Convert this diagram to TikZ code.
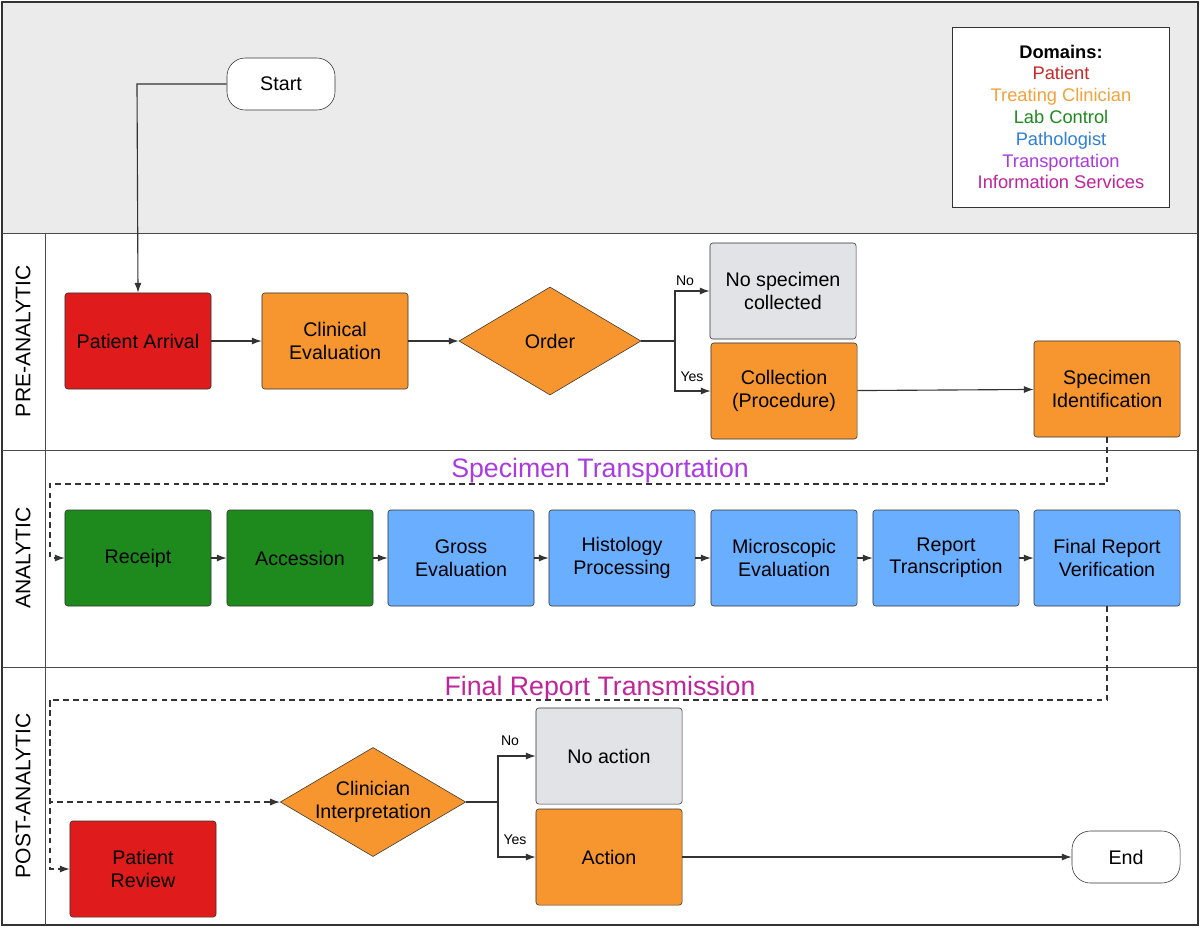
\documentclass[tikz,border=0pt]{standalone}
\usepackage{fontspec}
\setmainfont{Liberation Sans}
\usetikzlibrary{shapes.geometric,arrows.meta}
\definecolor{cred}{HTML}{E01B1B}
\definecolor{corg}{HTML}{F7962F}
\definecolor{cgrn}{HTML}{1E8A1E}
\definecolor{cblu}{HTML}{6AAFFF}
\definecolor{cgry}{HTML}{E1E3E7}
\definecolor{chead}{HTML}{EBEBEB}
\definecolor{cpur}{HTML}{A93BE0}
\definecolor{cmag}{HTML}{C0249B}
\definecolor{ltred}{HTML}{C62828}
\definecolor{ltorg}{HTML}{F2A33A}
\definecolor{ltgrn}{HTML}{1E8A1E}
\definecolor{ltblu}{HTML}{2F7FD8}
\begin{document}
\begin{tikzpicture}[x=0.025cm,y=-0.025cm,
 box/.style={draw=black!80,rounded corners=2pt,minimum width=3.65cm,minimum height=2.4cm,align=center,font=\fontsize{14}{16}\selectfont,inner sep=0pt},
 dia/.style={draw=black!80,diamond,aspect=1.7,fill=corg,minimum width=4.55cm,minimum height=2.7cm,inner sep=0pt,align=center,font=\fontsize{14}{16}\selectfont},
 term/.style={draw=black!80,rounded corners=13pt,fill=white,minimum width=2.7cm,minimum height=1.3cm,font=\fontsize{14}{16}\selectfont},
 arr/.style={-{Latex[length=7pt,width=5pt]},black!80,thick},
 darr/.style={-{Latex[length=7pt,width=5pt]},black!80,thick,dash pattern=on 4pt off 3pt},
 lane/.style={rotate=90,font=\fontsize{15}{17}\selectfont},
 lbl/.style={font=\fontsize{10}{12}\selectfont}]
\useasboundingbox (0,0) rectangle (1200,930);
\fill[chead] (2,2) rectangle (1198,233);
\draw[black!80,thick] (2,2) rectangle (1198,925);
\draw[black!70] (2,233)--(1198,233) (2,450)--(1198,450) (2,667)--(1198,667) (45,233)--(45,925);
\node[lane] (l1) at (23,341) {PRE-ANALYTIC};
\node[lane] (l2) at (23,558) {ANALYTIC};
\node[lane] (l3) at (23,796) {POST-ANALYTIC};
% legend
\node[draw=black!80,fill=white,minimum width=5.42cm,minimum height=4.5cm,align=center,font=\fontsize{13}{15.5}\selectfont] (leg) at (1061,117)
{\textbf{Domains:}\\\textcolor{ltred}{Patient}\\\textcolor{ltorg}{Treating Clinician}\\\textcolor{ltgrn}{Lab Control}\\\textcolor{ltblu}{Pathologist}\\\textcolor{cpur}{Transportation}\\\textcolor{cmag}{Information Services}};
\node[term] (start) at (281,84) {Start};
\node[box,fill=cred] (pa) at (138,341) {Patient Arrival};
\node[box,fill=corg] (ce) at (335,341) {Clinical\\Evaluation};
\node[dia] (ord) at (550,341) {Order};
\node[box,fill=cgry] (nsc) at (783,291) {No specimen\\collected};
\node[box,fill=corg] (col) at (784,391) {Collection\\(Procedure)};
\node[box,fill=corg] (sid) at (1107,389) {Specimen\\Identification};
\node[box,fill=cgrn] (rec) at (138,558) {Receipt};
\node[box,fill=cgrn] (acc) at (300,558) {Accession};
\node[box,fill=cblu] (gro) at (461,558) {Gross\\Evaluation};
\node[box,fill=cblu] (his) at (622,558) {Histology\\Processing};
\node[box,fill=cblu] (mic) at (784,558) {Microscopic\\Evaluation};
\node[box,fill=cblu] (rep) at (946,558) {Report\\Transcription};
\node[box,fill=cblu] (fin) at (1107,558) {Final Report\\Verification};
\node[text=cpur,font=\fontsize{19}{21}\selectfont] (t1) at (600,471) {Specimen Transportation};
\node[text=cmag,font=\fontsize{19}{21}\selectfont] (t2) at (600,689) {Final Report Transmission};
\node[dia] (ci) at (373,802) {Clinician\\Interpretation};
\node[box,fill=cgry] (na) at (609,756) {No action};
\node[box,fill=corg] (act) at (609,857) {Action};
\node[box,fill=cred] (pr) at (143,869) {Patient\\Review};
\node[term] (end) at (1126,857) {End};
\coordinate (c1) at (137,84);
\draw[arr] (start.west) -- (c1) -- (pa.north);
\draw[arr] (pa) -- (ce);
\draw[arr] (ce) -- (ord);
\coordinate (b1) at (675,341);
\draw[arr] (ord.east) -- (b1) |- (nsc.west);
\draw[arr] (b1) |- (col.west);
\node[lbl] (no1) at (685,281) {No};
\node[lbl] (yes1) at (692,377) {Yes};
\draw[arr] (col) -- (sid);
\coordinate (d1) at (1107,484); \coordinate (d2) at (50,484);
\draw[darr] (sid.south) -- (d1) -- (d2) |- (rec.west);
\draw[arr] (rec)--(acc); \draw[arr] (acc)--(gro); \draw[arr] (gro)--(his);
\draw[arr] (his)--(mic); \draw[arr] (mic)--(rep); \draw[arr] (rep)--(fin);
\coordinate (e1) at (1107,700); \coordinate (e2) at (50,700);
\draw[darr] (fin.south) -- (e1) -- (e2) |- (ci.west);
\draw[darr] (e2) |- (pr.west);
\coordinate (b2) at (498,802);
\draw[arr] (ci.east) -- (b2) |- (na.west);
\draw[arr] (b2) |- (act.west);
\node[lbl] (no2) at (510,741) {No};
\node[lbl] (yes2) at (515,840) {Yes};
\draw[arr] (act) -- (end);
\end{tikzpicture}
\end{document}
